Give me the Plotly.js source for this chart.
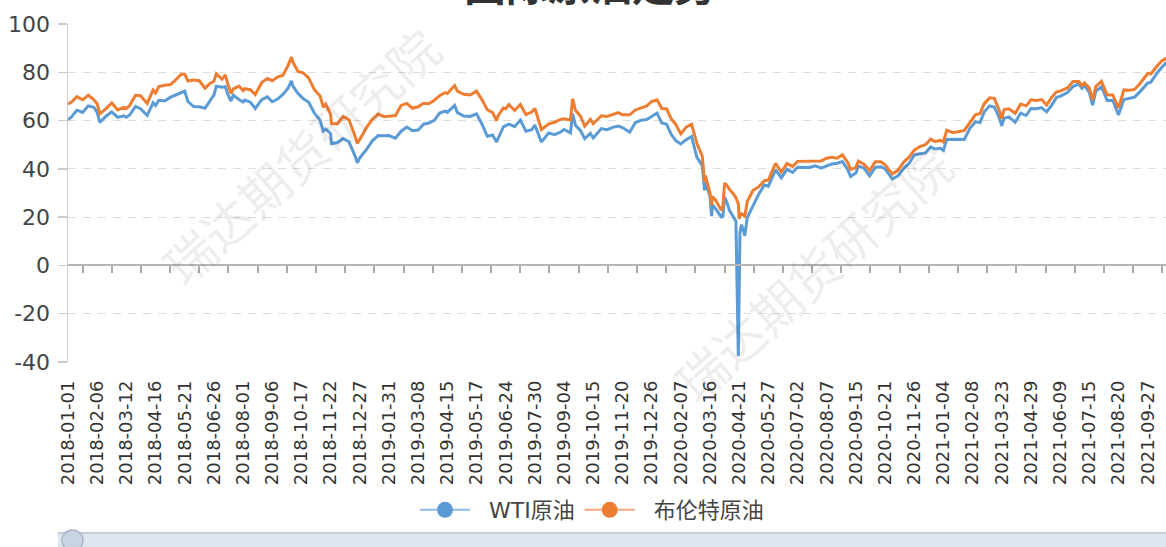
<!DOCTYPE html>
<html>
<head>
<meta charset="utf-8">
<script src="https://cdn.plot.ly/plotly-3.0.1.min.js"></script>
<style>
html,body{margin:0;padding:0;background:#fff;}
#chart{width:1166px;height:547px;}
</style>
</head>
<body>
<div id="chart"></div>
<script>
// ---------- DATA ----------
const tickLabels = ['2018-01-01','2018-02-06','2018-03-12','2018-04-16','2018-05-21','2018-06-26','2018-08-01','2018-09-06','2018-10-17','2018-11-22','2018-12-27',
  '2019-01-31','2019-03-08','2019-04-15','2019-05-17','2019-06-24','2019-07-30','2019-09-04','2019-10-15','2019-11-20','2019-12-26',
  '2020-02-07','2020-03-16','2020-04-21','2020-05-27','2020-07-02','2020-08-07','2020-09-15','2020-10-21','2020-11-26',
  '2021-01-04','2021-02-08','2021-03-23','2021-04-29','2021-06-09','2021-07-15','2021-08-20','2021-09-27'];

const dates = [
  // 2018
  '2018-01-01','2018-01-05','2018-01-12','2018-01-19','2018-01-26','2018-02-02','2018-02-06','2018-02-09','2018-02-16','2018-02-23',
  '2018-03-02','2018-03-09','2018-03-12','2018-03-16','2018-03-23','2018-03-29','2018-04-06','2018-04-13','2018-04-16','2018-04-20',
  '2018-04-27','2018-05-04','2018-05-11','2018-05-17','2018-05-21','2018-05-25','2018-06-01','2018-06-08','2018-06-15','2018-06-22',
  '2018-06-26','2018-06-29','2018-07-06','2018-07-10','2018-07-13','2018-07-17','2018-07-20','2018-07-27','2018-08-01','2018-08-03',
  '2018-08-10','2018-08-16','2018-08-24','2018-08-31','2018-09-06','2018-09-14','2018-09-21','2018-09-28','2018-10-03','2018-10-05',
  '2018-10-12','2018-10-17','2018-10-19','2018-10-26','2018-11-02','2018-11-09','2018-11-13','2018-11-16','2018-11-22','2018-11-23',
  '2018-11-30','2018-12-07','2018-12-14','2018-12-21','2018-12-24','2018-12-27',
  // 2019
  '2019-01-04','2019-01-11','2019-01-18','2019-01-25','2019-01-31','2019-02-08','2019-02-15','2019-02-22','2019-03-01','2019-03-08',
  '2019-03-15','2019-03-22','2019-03-29','2019-04-05','2019-04-12','2019-04-15','2019-04-23','2019-04-26','2019-05-03','2019-05-10',
  '2019-05-17','2019-05-24','2019-05-31','2019-06-07','2019-06-12','2019-06-14','2019-06-21','2019-06-24','2019-06-28','2019-07-05',
  '2019-07-12','2019-07-19','2019-07-26','2019-07-30','2019-08-02','2019-08-07','2019-08-16','2019-08-23','2019-08-30','2019-09-04',
  '2019-09-13','2019-09-16','2019-09-20','2019-09-27','2019-10-03','2019-10-11','2019-10-15','2019-10-25','2019-11-01','2019-11-08',
  '2019-11-15','2019-11-20','2019-11-29','2019-12-06','2019-12-13','2019-12-20','2019-12-26',
  // 2020
  '2020-01-03','2020-01-10','2020-01-17','2020-01-24','2020-01-31','2020-02-07','2020-02-14','2020-02-21','2020-02-28','2020-03-06',
  '2020-03-09','2020-03-10','2020-03-16','2020-03-18','2020-03-19','2020-03-23','2020-03-27','2020-03-30','2020-04-01','2020-04-03',
  '2020-04-06','2020-04-09','2020-04-14','2020-04-17','2020-04-20','2020-04-21','2020-04-22','2020-04-24','2020-04-28','2020-05-01',
  '2020-05-08','2020-05-15','2020-05-22','2020-05-27','2020-06-05','2020-06-12','2020-06-19','2020-06-26','2020-07-02','2020-07-10',
  '2020-07-17','2020-07-24','2020-07-31','2020-08-07','2020-08-14','2020-08-21','2020-08-28','2020-09-04','2020-09-08','2020-09-15',
  '2020-09-18','2020-09-25','2020-10-02','2020-10-09','2020-10-16','2020-10-21','2020-10-30','2020-11-06','2020-11-13','2020-11-20',
  '2020-11-26','2020-12-04','2020-12-11','2020-12-18','2020-12-24','2020-12-31',
  // 2021
  '2021-01-04','2021-01-08','2021-01-15','2021-01-22','2021-01-29','2021-02-05','2021-02-08','2021-02-12','2021-02-19','2021-02-25',
  '2021-03-05','2021-03-12','2021-03-19','2021-03-23','2021-03-26','2021-04-01','2021-04-09','2021-04-16','2021-04-23','2021-04-29',
  '2021-05-07','2021-05-14','2021-05-21','2021-05-28','2021-06-04','2021-06-09','2021-06-18','2021-06-25','2021-07-02','2021-07-06',
  '2021-07-09','2021-07-15','2021-07-19','2021-07-23','2021-07-30','2021-08-06','2021-08-13','2021-08-20','2021-08-27','2021-09-03',
  '2021-09-10','2021-09-17','2021-09-27','2021-10-01','2021-10-08','2021-10-15','2021-10-20','2021-10-25'
];

const wti = [
  // 2018
  60.4,61.4,64.3,63.4,66.1,65.5,63.4,59.2,61.7,63.6,
  61.3,62.0,61.4,62.3,65.9,64.9,62.1,67.4,66.2,68.4,
  68.1,69.7,70.7,71.5,72.2,67.9,65.8,65.7,65.1,68.6,
  70.5,74.2,73.8,74.0,71.0,68.1,70.5,68.7,67.7,68.5,
  67.6,65.0,68.7,69.8,67.8,69.0,70.8,73.3,76.4,74.3,
  71.3,69.8,69.1,67.6,63.1,60.2,55.7,56.5,54.6,50.4,
  50.9,52.6,51.2,45.6,42.5,44.6,
  // 2019
  48.0,51.6,53.8,53.7,53.8,52.7,55.6,57.3,55.8,56.1,
  58.5,59.0,60.1,63.1,63.9,63.4,66.3,63.3,61.9,61.7,
  62.8,58.6,53.5,54.0,51.1,52.5,57.4,57.9,58.5,57.5,
  60.2,55.6,56.2,58.1,55.7,51.1,54.9,54.2,55.1,56.3,
  54.9,62.9,58.1,55.9,52.5,54.7,52.8,56.7,56.2,57.2,
  57.7,57.1,55.2,59.2,60.1,60.4,61.7,
  // 2020
  63.1,59.0,58.5,54.2,51.6,50.3,52.1,53.4,44.8,41.3,
  31.1,34.4,28.7,20.4,25.2,23.4,21.5,20.1,20.3,28.3,
  26.1,22.8,20.1,18.3,-37.6,10.0,13.8,16.9,12.3,19.8,
  24.7,29.4,33.3,32.8,39.6,36.3,39.8,38.5,40.7,40.6,
  40.6,41.3,40.3,41.2,42.0,42.3,43.0,39.8,36.8,38.3,
  41.1,40.3,37.1,40.6,40.9,40.0,35.8,37.1,40.1,42.4,
  45.7,46.3,46.6,49.1,48.2,48.5,
  // 2021
  47.6,52.2,52.4,52.3,52.2,56.9,58.0,59.5,59.2,63.5,
  66.1,65.6,61.4,57.8,61.0,61.5,59.3,63.1,62.1,65.0,
  64.9,65.4,63.6,66.3,69.6,70.0,71.6,74.1,75.2,73.4,
  74.6,71.7,66.4,72.1,74.0,68.3,68.4,62.3,68.7,69.3,
  69.7,72.0,75.5,75.9,79.4,82.3,83.9,84.7
];

const brent = [
  // 2018
  66.9,67.6,69.9,68.6,70.5,68.6,67.0,62.8,64.8,67.3,
  64.4,65.5,65.0,66.2,70.5,70.3,67.1,72.6,71.4,74.1,
  74.6,74.9,77.1,79.3,79.2,76.4,76.8,76.5,73.4,75.6,
  76.3,79.4,77.1,78.9,75.3,71.2,73.1,74.3,72.4,73.2,
  72.8,70.8,75.8,77.4,76.5,78.1,78.8,82.7,86.3,84.2,
  80.4,80.1,79.8,77.6,72.8,70.2,65.5,66.8,62.6,58.8,
  58.7,61.7,60.3,53.8,50.5,52.2,
  // 2019
  57.1,60.5,62.7,61.6,61.9,62.1,66.3,67.1,65.1,65.7,
  67.2,67.0,68.4,70.3,71.6,71.2,74.5,72.2,70.9,70.6,
  72.2,68.7,64.5,63.3,60.0,62.0,65.2,64.9,66.6,64.2,
  66.7,62.5,63.5,65.0,61.9,56.2,58.6,59.3,60.4,60.7,
  60.2,69.0,64.3,61.9,57.7,60.5,58.7,62.0,61.7,62.5,
  63.3,62.4,62.4,64.4,65.2,66.1,67.9,
  // 2020
  68.6,65.0,64.9,60.7,58.2,54.5,57.3,58.5,50.5,45.3,
  34.4,37.2,30.1,24.9,28.5,27.0,24.9,22.8,24.7,34.1,
  33.1,31.5,29.6,28.1,25.6,19.3,20.4,21.4,20.5,26.4,
  31.0,32.5,35.1,35.3,42.3,38.7,42.2,41.0,43.1,43.2,
  43.1,43.3,43.3,44.4,44.8,44.4,45.8,42.7,39.8,40.5,
  43.2,41.9,39.3,42.9,42.9,41.7,37.9,39.5,42.8,45.0,
  47.8,49.3,50.0,52.3,51.3,51.8,
  // 2021
  51.1,56.0,55.1,55.4,55.9,59.3,60.6,62.4,62.9,66.9,
  69.4,69.2,64.5,60.8,64.6,64.9,63.0,66.8,66.1,68.6,
  68.3,68.7,66.4,69.6,71.9,72.2,73.5,76.2,76.2,74.5,
  75.6,73.5,68.6,74.1,76.3,70.7,70.6,65.2,72.7,72.6,
  72.9,75.3,79.5,79.3,82.4,84.9,85.8,86.0
];

const seriesNames = ['WTI原油', '布伦特原油'];
const seriesColors = ['#5B9BD5', '#ED7D31'];
const yTicks = [100, 80, 60, 40, 20, 0, -20, -40];

// ---------- SCALE: trading-day category axis, labels every 26 sessions ----------
const ms = d => Date.parse(d + 'T00:00:00Z');
const tickMs = tickLabels.map(ms);
function catPos(d) {
  const t = ms(d);
  const n = tickMs.length;
  for (let i = 0; i < n - 1; i++) {
    if (t >= tickMs[i] && t < tickMs[i + 1]) return i + (t - tickMs[i]) / (tickMs[i + 1] - tickMs[i]);
  }
  return (n - 1) + (t - tickMs[n - 1]) / (36 * 86400000);
}
const xs = dates.map(catPos);

// ---------- LAYOUT GEOMETRY ----------
const W = 1166, H = 547, ML = 68, MR = 0, MT = 24, MB = 185;
const plotW = W - ML - MR, plotH = H - MT - MB;
const pxPerLabel = 29.18;
const xMax = plotW / pxPerLabel;
const yMin = -40, yMax = 100;
const pX = px => (px - ML) / plotW;
const pY = py => (H - MB - py) / plotH;
const pad = '\u00a0\u00a0';

const traces = [
  {x: xs, y: wti, type: 'scatter', mode: 'lines', name: seriesNames[0], showlegend: false,
   line: {color: seriesColors[0], width: 3}, hoverinfo: 'skip'},
  {x: xs, y: brent, type: 'scatter', mode: 'lines', name: seriesNames[1], showlegend: false,
   line: {color: seriesColors[1], width: 3}, hoverinfo: 'skip'},
  // legend entries (no data), bound to the zero-line axis so that it is drawn
  {x: [null], y: [null], xaxis: 'x2', type: 'scatter', mode: 'lines+markers', name: pad + seriesNames[0],
   line: {color: '#8fbbe6', width: 2}, marker: {color: seriesColors[0], size: 16}},
  {x: [null], y: [null], xaxis: 'x2', type: 'scatter', mode: 'lines+markers', name: pad + seriesNames[1],
   line: {color: '#f4a87a', width: 2}, marker: {color: seriesColors[1], size: 16}}
];

const halfTicks = [];
for (let i = 0; i < tickLabels.length; i++) halfTicks.push(i + 0.5);

const wmFont = {family: 'Noto Sans CJK SC', size: 50, color: 'rgba(0,0,0,0.07)'};

const layout = {
  width: W, height: H,
  margin: {l: ML, r: MR, t: MT, b: MB, pad: 0},
  paper_bgcolor: '#fff', plot_bgcolor: '#fff',
  showlegend: true,
  xaxis: {
    type: 'linear', range: [0, xMax], autorange: false,
    tickmode: 'array', tickvals: tickLabels.map((_, i) => i), ticktext: tickLabels,
    tickangle: -90, ticks: '', showgrid: false, zeroline: false, showline: false,
    tickfont: {family: 'DejaVu Sans', size: 18, color: '#333'},
    ticklabelstandoff: 14
  },
  xaxis2: {
    overlaying: 'x', anchor: 'free', position: (0 - yMin) / (yMax - yMin),
    type: 'linear', range: [0, xMax], autorange: false,
    tickmode: 'array', tickvals: halfTicks, ticks: 'outside', ticklen: 7, tickwidth: 2, tickcolor: '#aaa',
    showticklabels: false, showline: true, linecolor: '#b5b5b5', linewidth: 2,
    showgrid: false, zeroline: false
  },
  yaxis: {
    range: [yMin, yMax], autorange: false,
    tickmode: 'array', tickvals: yTicks, ticktext: yTicks.map(String),
    ticks: 'outside', ticklen: 9, tickwidth: 1.5, tickcolor: '#ccc',
    showline: true, linecolor: '#ccc', linewidth: 1.5,
    showgrid: true, gridcolor: '#dcdcdc', gridwidth: 1, griddash: '8px,7px',
    zeroline: false,
    tickfont: {family: 'DejaVu Sans', size: 22, color: '#444'},
    ticklabelstandoff: 3
  },
  legend: {
    orientation: 'h', xref: 'container', yref: 'container',
    x: 592 / W, y: 1 - 510 / H, xanchor: 'center', yanchor: 'middle',
    font: {family: 'DejaVu Sans, Noto Sans CJK SC', size: 22, color: '#444'},
    itemwidth: 50, bgcolor: 'rgba(0,0,0,0)', traceorder: 'normal'
  },
  annotations: [
    {text: '国际原油走势', xref: 'paper', yref: 'paper', x: pX(590), y: pY(-17),
     xanchor: 'center', yanchor: 'middle', showarrow: false,
     font: {family: 'Noto Sans CJK SC', size: 42, color: '#333', weight: 'bold'}},
    {text: '瑞达期货研究院', xref: 'paper', yref: 'paper', x: pX(300), y: pY(155),
     xanchor: 'center', yanchor: 'middle', showarrow: false, textangle: -42, font: wmFont},
    {text: '瑞达期货研究院', xref: 'paper', yref: 'paper', x: pX(812), y: pY(272),
     xanchor: 'center', yanchor: 'middle', showarrow: false, textangle: -42, font: wmFont}
  ],
  shapes: [
    {type: 'rect', xref: 'paper', yref: 'paper', x0: pX(58), x1: pX(1170), y0: pY(547), y1: pY(532),
     fillcolor: '#dfe5ee', line: {width: 0}, layer: 'above'},
    {type: 'line', xref: 'paper', yref: 'paper', x0: pX(58), x1: pX(1170), y0: pY(533), y1: pY(533),
     line: {color: '#c4cdda', width: 2}, layer: 'above'},
    {type: 'circle', xref: 'paper', yref: 'paper', x0: pX(62), x1: pX(83), y0: pY(551), y1: pY(530),
     fillcolor: '#c9d3e1', line: {color: '#a9b6c9', width: 1.5}, layer: 'above'}
  ]
};

Plotly.newPlot('chart', traces, layout, {displayModeBar: false, staticPlot: true});
</script>
</body>
</html>
